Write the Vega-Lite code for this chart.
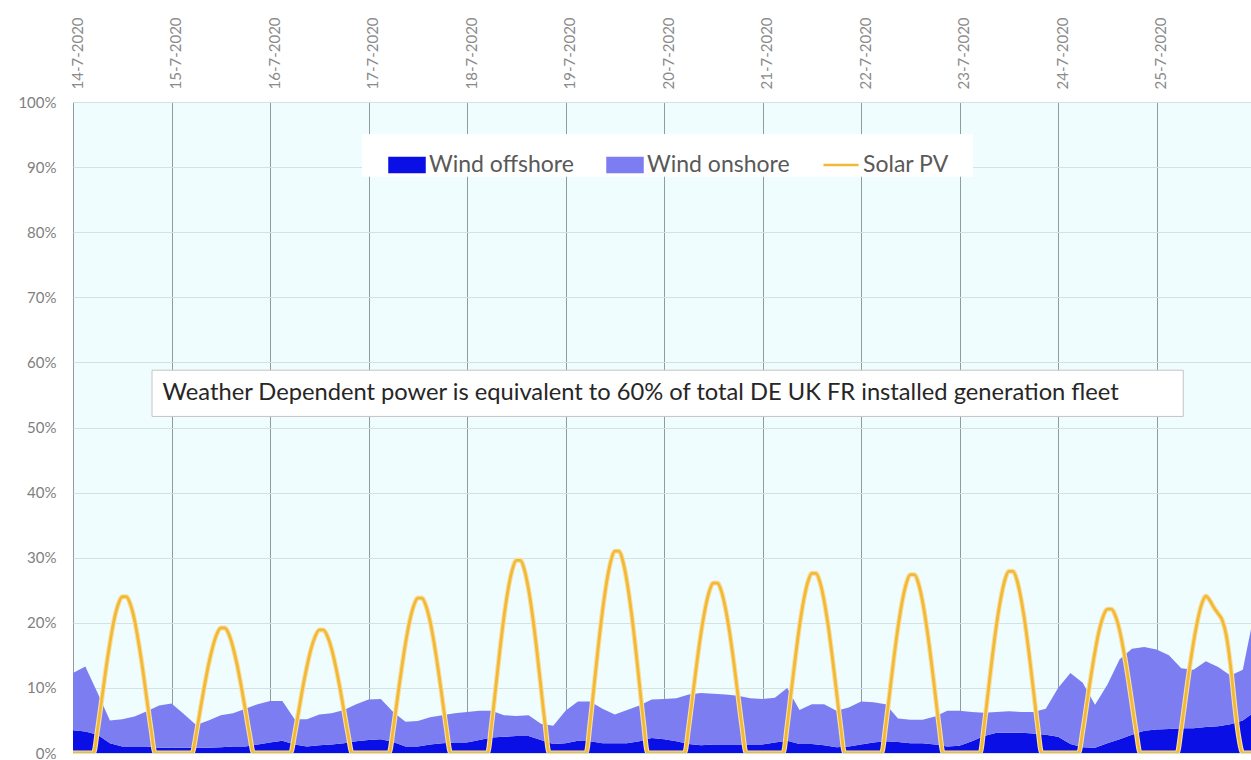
{
  "$schema": "https://vega.github.io/schema/vega-lite/v6.json",
  "width": 1178,
  "height": 651,
  "autosize": "none",
  "padding": {"left": 73, "top": 102, "right": 0, "bottom": 7},
  "background": "white",
  "config": {
    "view": {"fill": "#effdfe", "stroke": null},
    "font": "Lato"
  },
  "datasets": {
    "wind": [
      {"t":"2020-07-14T00:00Z","Wind offshore":3.5,"Wind onshore":8.8},
      {"t":"2020-07-14T03:00Z","Wind offshore":3.3,"Wind onshore":10.0},
      {"t":"2020-07-14T06:00Z","Wind offshore":2.8,"Wind onshore":6.4},
      {"t":"2020-07-14T09:00Z","Wind offshore":1.5,"Wind onshore":3.5},
      {"t":"2020-07-14T12:00Z","Wind offshore":1.0,"Wind onshore":4.2},
      {"t":"2020-07-14T15:00Z","Wind offshore":1.0,"Wind onshore":4.6},
      {"t":"2020-07-14T18:00Z","Wind offshore":1.0,"Wind onshore":5.4},
      {"t":"2020-07-14T21:00Z","Wind offshore":0.8,"Wind onshore":6.5},
      {"t":"2020-07-15T00:00Z","Wind offshore":0.8,"Wind onshore":6.8},
      {"t":"2020-07-15T03:00Z","Wind offshore":0.8,"Wind onshore":5.2},
      {"t":"2020-07-15T06:00Z","Wind offshore":0.8,"Wind onshore":3.5},
      {"t":"2020-07-15T09:00Z","Wind offshore":0.8,"Wind onshore":4.2},
      {"t":"2020-07-15T12:00Z","Wind offshore":0.9,"Wind onshore":4.9},
      {"t":"2020-07-15T15:00Z","Wind offshore":1.0,"Wind onshore":5.1},
      {"t":"2020-07-15T18:00Z","Wind offshore":1.0,"Wind onshore":5.8},
      {"t":"2020-07-15T21:00Z","Wind offshore":1.3,"Wind onshore":6.2},
      {"t":"2020-07-16T00:00Z","Wind offshore":1.6,"Wind onshore":6.4},
      {"t":"2020-07-16T03:00Z","Wind offshore":1.9,"Wind onshore":6.1},
      {"t":"2020-07-16T06:00Z","Wind offshore":1.3,"Wind onshore":3.9},
      {"t":"2020-07-16T09:00Z","Wind offshore":1.0,"Wind onshore":4.2},
      {"t":"2020-07-16T12:00Z","Wind offshore":1.2,"Wind onshore":4.7},
      {"t":"2020-07-16T15:00Z","Wind offshore":1.3,"Wind onshore":4.8},
      {"t":"2020-07-16T18:00Z","Wind offshore":1.5,"Wind onshore":5.1},
      {"t":"2020-07-16T21:00Z","Wind offshore":1.8,"Wind onshore":5.7},
      {"t":"2020-07-17T00:00Z","Wind offshore":2.0,"Wind onshore":6.2},
      {"t":"2020-07-17T03:00Z","Wind offshore":2.1,"Wind onshore":6.2},
      {"t":"2020-07-17T06:00Z","Wind offshore":1.7,"Wind onshore":4.6},
      {"t":"2020-07-17T09:00Z","Wind offshore":1.0,"Wind onshore":3.8},
      {"t":"2020-07-17T12:00Z","Wind offshore":1.0,"Wind onshore":3.9},
      {"t":"2020-07-17T15:00Z","Wind offshore":1.3,"Wind onshore":4.2},
      {"t":"2020-07-17T18:00Z","Wind offshore":1.5,"Wind onshore":4.3},
      {"t":"2020-07-17T21:00Z","Wind offshore":1.6,"Wind onshore":4.5},
      {"t":"2020-07-18T00:00Z","Wind offshore":1.6,"Wind onshore":4.7},
      {"t":"2020-07-18T03:00Z","Wind offshore":2.0,"Wind onshore":4.5},
      {"t":"2020-07-18T06:00Z","Wind offshore":2.4,"Wind onshore":4.1},
      {"t":"2020-07-18T09:00Z","Wind offshore":2.5,"Wind onshore":3.3},
      {"t":"2020-07-18T12:00Z","Wind offshore":2.6,"Wind onshore":3.1},
      {"t":"2020-07-18T15:00Z","Wind offshore":2.6,"Wind onshore":3.2},
      {"t":"2020-07-18T18:00Z","Wind offshore":2.0,"Wind onshore":2.5},
      {"t":"2020-07-18T21:00Z","Wind offshore":1.4,"Wind onshore":2.8},
      {"t":"2020-07-19T00:00Z","Wind offshore":1.5,"Wind onshore":5.0},
      {"t":"2020-07-19T03:00Z","Wind offshore":1.9,"Wind onshore":6.0},
      {"t":"2020-07-19T06:00Z","Wind offshore":1.8,"Wind onshore":6.1},
      {"t":"2020-07-19T09:00Z","Wind offshore":1.5,"Wind onshore":5.3},
      {"t":"2020-07-19T12:00Z","Wind offshore":1.5,"Wind onshore":4.4},
      {"t":"2020-07-19T15:00Z","Wind offshore":1.5,"Wind onshore":5.1},
      {"t":"2020-07-19T18:00Z","Wind offshore":1.8,"Wind onshore":5.5},
      {"t":"2020-07-19T21:00Z","Wind offshore":2.3,"Wind onshore":5.9},
      {"t":"2020-07-20T00:00Z","Wind offshore":2.1,"Wind onshore":6.2},
      {"t":"2020-07-20T03:00Z","Wind offshore":1.8,"Wind onshore":6.6},
      {"t":"2020-07-20T06:00Z","Wind offshore":1.4,"Wind onshore":7.6},
      {"t":"2020-07-20T09:00Z","Wind offshore":1.2,"Wind onshore":8.0},
      {"t":"2020-07-20T12:00Z","Wind offshore":1.3,"Wind onshore":7.8},
      {"t":"2020-07-20T15:00Z","Wind offshore":1.3,"Wind onshore":7.7},
      {"t":"2020-07-20T18:00Z","Wind offshore":1.3,"Wind onshore":7.5},
      {"t":"2020-07-20T21:00Z","Wind offshore":1.3,"Wind onshore":7.1},
      {"t":"2020-07-21T00:00Z","Wind offshore":1.3,"Wind onshore":7.0},
      {"t":"2020-07-21T03:00Z","Wind offshore":1.6,"Wind onshore":6.9},
      {"t":"2020-07-21T06:00Z","Wind offshore":1.9,"Wind onshore":8.1},
      {"t":"2020-07-21T09:00Z","Wind offshore":1.4,"Wind onshore":5.2},
      {"t":"2020-07-21T12:00Z","Wind offshore":1.4,"Wind onshore":6.1},
      {"t":"2020-07-21T15:00Z","Wind offshore":1.2,"Wind onshore":6.3},
      {"t":"2020-07-21T18:00Z","Wind offshore":0.9,"Wind onshore":5.6},
      {"t":"2020-07-21T21:00Z","Wind offshore":1.0,"Wind onshore":6.0},
      {"t":"2020-07-22T00:00Z","Wind offshore":1.3,"Wind onshore":6.6},
      {"t":"2020-07-22T03:00Z","Wind offshore":1.6,"Wind onshore":6.2},
      {"t":"2020-07-22T06:00Z","Wind offshore":1.8,"Wind onshore":5.7},
      {"t":"2020-07-22T09:00Z","Wind offshore":1.7,"Wind onshore":3.6},
      {"t":"2020-07-22T12:00Z","Wind offshore":1.5,"Wind onshore":3.6},
      {"t":"2020-07-22T15:00Z","Wind offshore":1.5,"Wind onshore":3.6},
      {"t":"2020-07-22T18:00Z","Wind offshore":1.3,"Wind onshore":4.3},
      {"t":"2020-07-22T21:00Z","Wind offshore":1.0,"Wind onshore":5.5},
      {"t":"2020-07-23T00:00Z","Wind offshore":1.1,"Wind onshore":5.4},
      {"t":"2020-07-23T03:00Z","Wind offshore":1.8,"Wind onshore":4.5},
      {"t":"2020-07-23T06:00Z","Wind offshore":2.6,"Wind onshore":3.6},
      {"t":"2020-07-23T09:00Z","Wind offshore":3.1,"Wind onshore":3.2},
      {"t":"2020-07-23T12:00Z","Wind offshore":3.1,"Wind onshore":3.3},
      {"t":"2020-07-23T15:00Z","Wind offshore":3.1,"Wind onshore":3.2},
      {"t":"2020-07-23T18:00Z","Wind offshore":3.0,"Wind onshore":3.3},
      {"t":"2020-07-23T21:00Z","Wind offshore":2.8,"Wind onshore":4.0},
      {"t":"2020-07-24T00:00Z","Wind offshore":2.5,"Wind onshore":7.5},
      {"t":"2020-07-24T03:00Z","Wind offshore":1.4,"Wind onshore":10.9},
      {"t":"2020-07-24T06:00Z","Wind offshore":0.9,"Wind onshore":9.9},
      {"t":"2020-07-24T09:00Z","Wind offshore":0.8,"Wind onshore":6.6},
      {"t":"2020-07-24T12:00Z","Wind offshore":1.5,"Wind onshore":9.0},
      {"t":"2020-07-24T15:00Z","Wind offshore":2.1,"Wind onshore":12.3},
      {"t":"2020-07-24T18:00Z","Wind offshore":2.8,"Wind onshore":13.2},
      {"t":"2020-07-24T21:00Z","Wind offshore":3.4,"Wind onshore":12.9},
      {"t":"2020-07-25T00:00Z","Wind offshore":3.6,"Wind onshore":12.3},
      {"t":"2020-07-25T03:00Z","Wind offshore":3.7,"Wind onshore":11.3},
      {"t":"2020-07-25T06:00Z","Wind offshore":3.8,"Wind onshore":9.2},
      {"t":"2020-07-25T09:00Z","Wind offshore":3.8,"Wind onshore":9.0},
      {"t":"2020-07-25T12:00Z","Wind offshore":4.0,"Wind onshore":10.1},
      {"t":"2020-07-25T15:00Z","Wind offshore":4.1,"Wind onshore":9.1},
      {"t":"2020-07-25T18:00Z","Wind offshore":4.4,"Wind onshore":7.5},
      {"t":"2020-07-25T21:00Z","Wind offshore":5.0,"Wind onshore":7.8},
      {"t":"2020-07-25T23:00Z","Wind offshore":5.9,"Wind onshore":13.1}
    ],
    "solar": [
      {"t":"2020-07-14T00:00Z","v":0},
      {"t":"2020-07-14T05:00Z","v":0},{"t":"2020-07-14T06:00Z","v":3.7},{"t":"2020-07-14T07:00Z","v":8.2},{"t":"2020-07-14T08:00Z","v":12.8},{"t":"2020-07-14T09:00Z","v":16.9},{"t":"2020-07-14T10:00Z","v":20.4},{"t":"2020-07-14T11:00Z","v":22.8},{"t":"2020-07-14T12:00Z","v":24.0},{"t":"2020-07-14T13:00Z","v":24.0},{"t":"2020-07-14T14:00Z","v":22.8},{"t":"2020-07-14T15:00Z","v":20.4},{"t":"2020-07-14T16:00Z","v":16.9},{"t":"2020-07-14T17:00Z","v":12.8},{"t":"2020-07-14T18:00Z","v":8.2},{"t":"2020-07-14T19:00Z","v":3.7},{"t":"2020-07-14T20:00Z","v":0},
      {"t":"2020-07-15T05:00Z","v":0},{"t":"2020-07-15T06:00Z","v":2.9},{"t":"2020-07-15T07:00Z","v":6.6},{"t":"2020-07-15T08:00Z","v":10.2},{"t":"2020-07-15T09:00Z","v":13.5},{"t":"2020-07-15T10:00Z","v":16.2},{"t":"2020-07-15T11:00Z","v":18.2},{"t":"2020-07-15T12:00Z","v":19.2},{"t":"2020-07-15T13:00Z","v":19.2},{"t":"2020-07-15T14:00Z","v":18.2},{"t":"2020-07-15T15:00Z","v":16.2},{"t":"2020-07-15T16:00Z","v":13.5},{"t":"2020-07-15T17:00Z","v":10.2},{"t":"2020-07-15T18:00Z","v":6.6},{"t":"2020-07-15T19:00Z","v":2.9},{"t":"2020-07-15T20:00Z","v":0},
      {"t":"2020-07-16T05:00Z","v":0},{"t":"2020-07-16T06:00Z","v":2.9},{"t":"2020-07-16T07:00Z","v":6.5},{"t":"2020-07-16T08:00Z","v":10.1},{"t":"2020-07-16T09:00Z","v":13.3},{"t":"2020-07-16T10:00Z","v":16.0},{"t":"2020-07-16T11:00Z","v":17.9},{"t":"2020-07-16T12:00Z","v":18.9},{"t":"2020-07-16T13:00Z","v":18.9},{"t":"2020-07-16T14:00Z","v":17.9},{"t":"2020-07-16T15:00Z","v":16.0},{"t":"2020-07-16T16:00Z","v":13.3},{"t":"2020-07-16T17:00Z","v":10.1},{"t":"2020-07-16T18:00Z","v":6.5},{"t":"2020-07-16T19:00Z","v":2.9},{"t":"2020-07-16T20:00Z","v":0},
      {"t":"2020-07-17T05:00Z","v":0},{"t":"2020-07-17T06:00Z","v":3.6},{"t":"2020-07-17T07:00Z","v":8.2},{"t":"2020-07-17T08:00Z","v":12.7},{"t":"2020-07-17T09:00Z","v":16.8},{"t":"2020-07-17T10:00Z","v":20.2},{"t":"2020-07-17T11:00Z","v":22.6},{"t":"2020-07-17T12:00Z","v":23.8},{"t":"2020-07-17T13:00Z","v":23.8},{"t":"2020-07-17T14:00Z","v":22.6},{"t":"2020-07-17T15:00Z","v":20.2},{"t":"2020-07-17T16:00Z","v":16.8},{"t":"2020-07-17T17:00Z","v":12.7},{"t":"2020-07-17T18:00Z","v":8.2},{"t":"2020-07-17T19:00Z","v":3.6},{"t":"2020-07-17T20:00Z","v":0},
      {"t":"2020-07-18T05:00Z","v":0},{"t":"2020-07-18T06:00Z","v":4.5},{"t":"2020-07-18T07:00Z","v":10.1},{"t":"2020-07-18T08:00Z","v":15.8},{"t":"2020-07-18T09:00Z","v":20.9},{"t":"2020-07-18T10:00Z","v":25.1},{"t":"2020-07-18T11:00Z","v":28.1},{"t":"2020-07-18T12:00Z","v":29.6},{"t":"2020-07-18T13:00Z","v":29.6},{"t":"2020-07-18T14:00Z","v":28.1},{"t":"2020-07-18T15:00Z","v":25.1},{"t":"2020-07-18T16:00Z","v":20.9},{"t":"2020-07-18T17:00Z","v":15.8},{"t":"2020-07-18T18:00Z","v":10.1},{"t":"2020-07-18T19:00Z","v":4.5},{"t":"2020-07-18T20:00Z","v":0},
      {"t":"2020-07-19T05:00Z","v":0},{"t":"2020-07-19T06:00Z","v":4.7},{"t":"2020-07-19T07:00Z","v":10.6},{"t":"2020-07-19T08:00Z","v":16.5},{"t":"2020-07-19T09:00Z","v":21.8},{"t":"2020-07-19T10:00Z","v":26.2},{"t":"2020-07-19T11:00Z","v":29.4},{"t":"2020-07-19T12:00Z","v":31.0},{"t":"2020-07-19T13:00Z","v":31.0},{"t":"2020-07-19T14:00Z","v":29.4},{"t":"2020-07-19T15:00Z","v":26.2},{"t":"2020-07-19T16:00Z","v":21.8},{"t":"2020-07-19T17:00Z","v":16.5},{"t":"2020-07-19T18:00Z","v":10.6},{"t":"2020-07-19T19:00Z","v":4.7},{"t":"2020-07-19T20:00Z","v":0},
      {"t":"2020-07-20T05:00Z","v":0},{"t":"2020-07-20T06:00Z","v":4.0},{"t":"2020-07-20T07:00Z","v":8.9},{"t":"2020-07-20T08:00Z","v":13.9},{"t":"2020-07-20T09:00Z","v":18.4},{"t":"2020-07-20T10:00Z","v":22.1},{"t":"2020-07-20T11:00Z","v":24.8},{"t":"2020-07-20T12:00Z","v":26.1},{"t":"2020-07-20T13:00Z","v":26.1},{"t":"2020-07-20T14:00Z","v":24.8},{"t":"2020-07-20T15:00Z","v":22.1},{"t":"2020-07-20T16:00Z","v":18.4},{"t":"2020-07-20T17:00Z","v":13.9},{"t":"2020-07-20T18:00Z","v":8.9},{"t":"2020-07-20T19:00Z","v":4.0},{"t":"2020-07-20T20:00Z","v":0},
      {"t":"2020-07-21T05:00Z","v":0},{"t":"2020-07-21T06:00Z","v":4.2},{"t":"2020-07-21T07:00Z","v":9.5},{"t":"2020-07-21T08:00Z","v":14.7},{"t":"2020-07-21T09:00Z","v":19.5},{"t":"2020-07-21T10:00Z","v":23.4},{"t":"2020-07-21T11:00Z","v":26.2},{"t":"2020-07-21T12:00Z","v":27.6},{"t":"2020-07-21T13:00Z","v":27.6},{"t":"2020-07-21T14:00Z","v":26.2},{"t":"2020-07-21T15:00Z","v":23.4},{"t":"2020-07-21T16:00Z","v":19.5},{"t":"2020-07-21T17:00Z","v":14.7},{"t":"2020-07-21T18:00Z","v":9.5},{"t":"2020-07-21T19:00Z","v":4.2},{"t":"2020-07-21T20:00Z","v":0},
      {"t":"2020-07-22T05:00Z","v":0},{"t":"2020-07-22T06:00Z","v":4.2},{"t":"2020-07-22T07:00Z","v":9.4},{"t":"2020-07-22T08:00Z","v":14.6},{"t":"2020-07-22T09:00Z","v":19.3},{"t":"2020-07-22T10:00Z","v":23.2},{"t":"2020-07-22T11:00Z","v":26.0},{"t":"2020-07-22T12:00Z","v":27.4},{"t":"2020-07-22T13:00Z","v":27.4},{"t":"2020-07-22T14:00Z","v":26.0},{"t":"2020-07-22T15:00Z","v":23.2},{"t":"2020-07-22T16:00Z","v":19.3},{"t":"2020-07-22T17:00Z","v":14.6},{"t":"2020-07-22T18:00Z","v":9.4},{"t":"2020-07-22T19:00Z","v":4.2},{"t":"2020-07-22T20:00Z","v":0},
      {"t":"2020-07-23T05:00Z","v":0},{"t":"2020-07-23T06:00Z","v":4.3},{"t":"2020-07-23T07:00Z","v":9.6},{"t":"2020-07-23T08:00Z","v":14.9},{"t":"2020-07-23T09:00Z","v":19.7},{"t":"2020-07-23T10:00Z","v":23.6},{"t":"2020-07-23T11:00Z","v":26.5},{"t":"2020-07-23T12:00Z","v":27.9},{"t":"2020-07-23T13:00Z","v":27.9},{"t":"2020-07-23T14:00Z","v":26.5},{"t":"2020-07-23T15:00Z","v":23.6},{"t":"2020-07-23T16:00Z","v":19.7},{"t":"2020-07-23T17:00Z","v":14.9},{"t":"2020-07-23T18:00Z","v":9.6},{"t":"2020-07-23T19:00Z","v":4.3},{"t":"2020-07-23T20:00Z","v":0},
      {"t":"2020-07-24T05:00Z","v":0},{"t":"2020-07-24T06:00Z","v":3.4},{"t":"2020-07-24T07:00Z","v":7.6},{"t":"2020-07-24T08:00Z","v":11.8},{"t":"2020-07-24T09:00Z","v":15.6},{"t":"2020-07-24T10:00Z","v":18.8},{"t":"2020-07-24T11:00Z","v":21.0},{"t":"2020-07-24T12:00Z","v":22.1},{"t":"2020-07-24T13:00Z","v":22.1},{"t":"2020-07-24T14:00Z","v":21.0},{"t":"2020-07-24T15:00Z","v":18.8},{"t":"2020-07-24T16:00Z","v":15.6},{"t":"2020-07-24T17:00Z","v":11.8},{"t":"2020-07-24T18:00Z","v":7.6},{"t":"2020-07-24T19:00Z","v":3.4},{"t":"2020-07-24T20:00Z","v":0},
      {"t":"2020-07-25T05:00Z","v":0},{"t":"2020-07-25T06:00Z","v":3.7},{"t":"2020-07-25T07:00Z","v":8.3},{"t":"2020-07-25T08:00Z","v":12.9},{"t":"2020-07-25T09:00Z","v":17.0},{"t":"2020-07-25T10:00Z","v":20.4},{"t":"2020-07-25T11:00Z","v":22.9},{"t":"2020-07-25T12:00Z","v":24.1},{"t":"2020-07-25T13:00Z","v":23.4},{"t":"2020-07-25T14:00Z","v":22.3},{"t":"2020-07-25T15:00Z","v":21.4},{"t":"2020-07-25T16:00Z","v":20.4},{"t":"2020-07-25T17:00Z","v":18.0},{"t":"2020-07-25T18:00Z","v":13.5},{"t":"2020-07-25T19:00Z","v":7.5},{"t":"2020-07-25T20:00Z","v":2.5},{"t":"2020-07-25T21:00Z","v":0},{"t":"2020-07-25T23:00Z","v":0}
    ],
    "note": [
      {"x1":"2020-07-14T19:15Z","x2":"2020-07-25T06:30Z","y1":51.7,"y2":58.8,"tx":"2020-07-14T21:50Z","ty":55.3,"label":"Weather Dependent power is equivalent to 60% of total DE UK FR installed generation fleet"}
    ],
    "legendbox": [
      {"x1":"2020-07-16T22:25Z","x2":"2020-07-23T03:17Z","y1":88.5,"y2":95.1}
    ]
  },
  "layer": [
    {
      "data": {"name": "wind"},
      "transform": [{"fold": ["Wind offshore", "Wind onshore"], "as": ["series", "val"]}],
      "mark": {"type": "area", "interpolate": "linear", "clip": true},
      "encoding": {
        "x": {
          "field": "t", "type": "temporal",
          "scale": {"type": "utc", "domain": [{"year": 2020, "month": 7, "date": 14, "utc": true}, {"year": 2020, "month": 7, "date": 25, "hours": 23, "utc": true}]},
          "axis": {
            "orient": "top", "title": null, "format": "%-d-%-m-%Y", "labelAngle": -90,
            "values": [
              {"year": 2020, "month": 7, "date": 14, "utc": true},
              {"year": 2020, "month": 7, "date": 15, "utc": true},
              {"year": 2020, "month": 7, "date": 16, "utc": true},
              {"year": 2020, "month": 7, "date": 17, "utc": true},
              {"year": 2020, "month": 7, "date": 18, "utc": true},
              {"year": 2020, "month": 7, "date": 19, "utc": true},
              {"year": 2020, "month": 7, "date": 20, "utc": true},
              {"year": 2020, "month": 7, "date": 21, "utc": true},
              {"year": 2020, "month": 7, "date": 22, "utc": true},
              {"year": 2020, "month": 7, "date": 23, "utc": true},
              {"year": 2020, "month": 7, "date": 24, "utc": true},
              {"year": 2020, "month": 7, "date": 25, "utc": true}
            ],
            "domain": false, "ticks": false, "grid": true, "gridColor": "#8e9e9e", "gridWidth": 1,
            "labelFont": "Lato", "labelFontSize": 15, "labelColor": "#8a8a8a", "labelPadding": 13, "labelOffset": 4
          }
        },
        "y": {
          "field": "val", "type": "quantitative", "stack": "zero",
          "scale": {"domain": [0, 100], "nice": false},
          "axis": {
            "title": null, "values": [0, 10, 20, 30, 40, 50, 60, 70, 80, 90, 100],
            "labelExpr": "datum.value + '%'", "domain": false, "ticks": false,
            "grid": true, "gridColor": "#d3e2e2", "gridWidth": 1,
            "labelFont": "Lato", "labelFontSize": 15, "labelColor": "#7f7f7f", "labelPadding": 17
          }
        },
        "color": {
          "field": "series", "type": "nominal",
          "scale": {"domain": ["Wind offshore", "Wind onshore", "Solar PV"], "range": ["#0a0fe6", "#7d7df2", "#f2b934"]},
          "legend": {
            "title": null, "orient": "none", "legendX": 305, "legendY": 34, "direction": "horizontal",
            "padding": 10, "columnPadding": 28, "labelOffset": 3,
            "symbolSize": 1225, "labelFont": "Lato", "labelFontSize": 23, "labelColor": "#595959",
            "encode": {
              "symbols": {
                "update": {
                  "shape": {"signal": "datum.value === 'Solar PV' ? 'M-1,0H1' : 'M-1,-0.4H1V0.4H-1Z'"},
                  "fill": {"signal": "datum.value === 'Solar PV' ? 'transparent' : (datum.value === 'Wind offshore' ? '#0a0fe6' : '#7d7df2')"},
                  "stroke": {"signal": "datum.value === 'Solar PV' ? '#f2b934' : 'transparent'"},
                  "strokeWidth": {"value": 2.5},
                  "opacity": {"value": 1},
                  "fillOpacity": {"value": 1},
                  "strokeOpacity": {"value": 1}
                }
              }
            }
          }
        },
        "order": {"field": "series", "sort": "ascending"}
      }
    },
    {
      "data": {"name": "solar"},
      "mark": {"type": "line", "interpolate": "monotone", "strokeWidth": 5, "color": "#f7dfa6", "clip": true},
      "encoding": {
        "x": {"field": "t", "type": "temporal"},
        "y": {"field": "v", "type": "quantitative"}
      }
    },
    {
      "data": {"name": "solar"},
      "mark": {"type": "line", "interpolate": "monotone", "strokeWidth": 2.8, "clip": true},
      "encoding": {
        "x": {"field": "t", "type": "temporal"},
        "y": {"field": "v", "type": "quantitative"},
        "color": {"datum": "Solar PV"}
      }
    },
    {
      "mark": {"type": "rule", "color": "#d43c2c", "strokeWidth": 6},
      "encoding": {"y": {"datum": 60}}
    },
    {
      "data": {"name": "legendbox"},
      "mark": {"type": "rect", "fill": "white", "stroke": null},
      "encoding": {
        "x": {"field": "x1", "type": "temporal"},
        "x2": {"field": "x2"},
        "y": {"field": "y1", "type": "quantitative"},
        "y2": {"field": "y2"}
      }
    },
    {
      "data": {"name": "note"},
      "mark": {"type": "rect", "fill": "white", "stroke": "#c4c4c4", "strokeWidth": 1},
      "encoding": {
        "x": {"field": "x1", "type": "temporal"},
        "x2": {"field": "x2"},
        "y": {"field": "y1", "type": "quantitative"},
        "y2": {"field": "y2"}
      }
    },
    {
      "data": {"name": "note"},
      "mark": {"type": "text", "align": "left", "baseline": "middle", "font": "Lato", "fontSize": 23.7, "color": "#262626"},
      "encoding": {
        "x": {"field": "tx", "type": "temporal"},
        "y": {"field": "ty", "type": "quantitative"},
        "text": {"field": "label"}
      }
    }
  ]
}
